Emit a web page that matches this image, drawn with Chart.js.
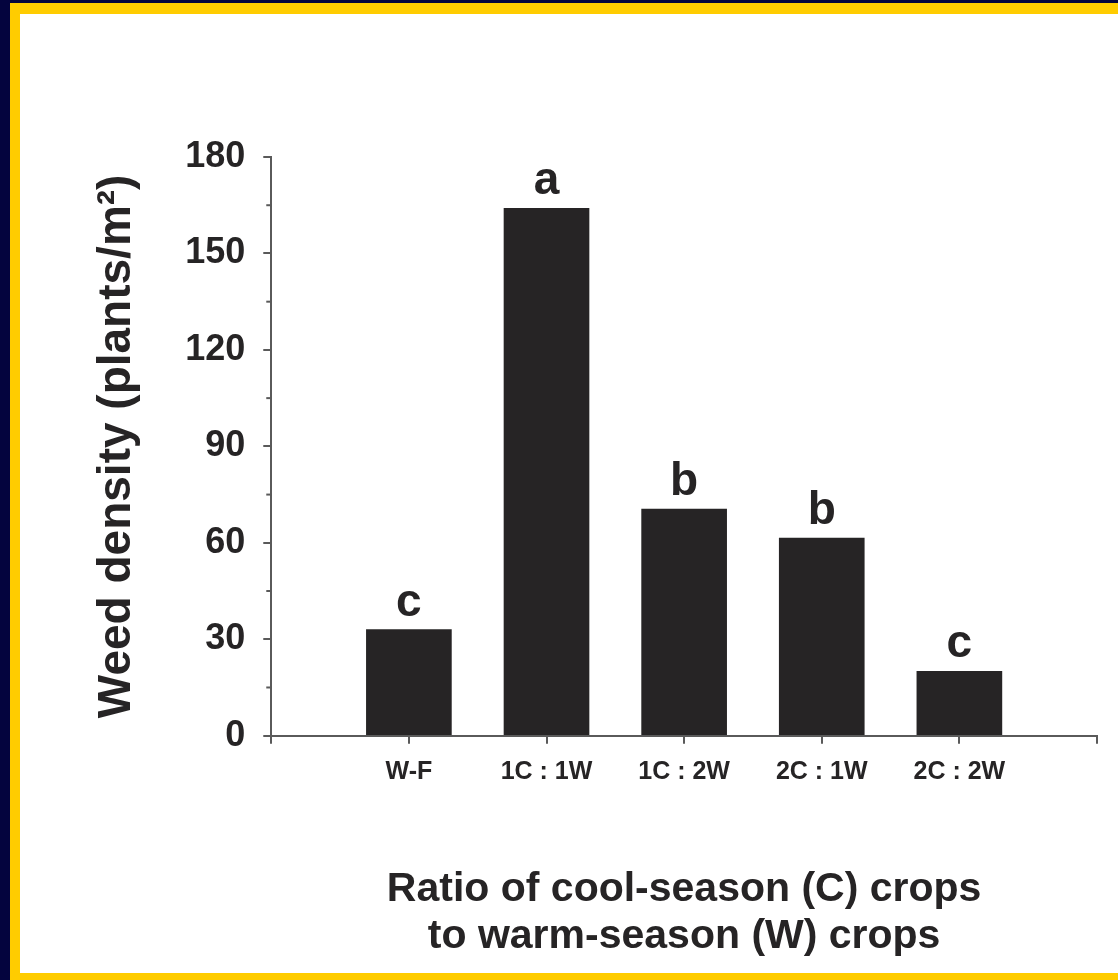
<!DOCTYPE html>
<html>
<head>
<meta charset="utf-8">
<script src="https://cdn.jsdelivr.net/npm/chart.js@4.4.0/dist/chart.umd.min.js"></script>
<style>
  html, body { margin: 0; padding: 0; background: #04043e; overflow: hidden; }
  #frame { position: absolute; left: 10px; top: 3px; width: 1120px; height: 990px; background: #ffcc00; }
  #panel { position: absolute; left: 20px; top: 14px; width: 1110px; height: 959px; background: #ffffff; }
  #chart { position: absolute; left: 0; top: 0; }
</style>
</head>
<body>
<div id="frame"></div>
<div id="panel"></div>
<canvas id="chart" width="1118" height="980"></canvas>
<script>
// rotation ratios on the x axis
const categories = ['W-F', '1C : 1W', '1C : 2W', '2C : 1W', '2C : 2W'];
// weed density, plants/m2
const density = [33, 164, 70.5, 61.5, 20];
// significance letters above bars
const sigLetters = ['c', 'a', 'b', 'b', 'c'];
// y axis
const yTicks = [0, 30, 60, 90, 120, 150, 180];
const yMinorTicks = [15, 45, 75, 105, 135, 165];

const inkColor = '#262425';
const axisColor = '#5a5a5a';
const fontFamily = '"Liberation Sans", Arial, Helvetica, sans-serif';

// empty slot at each end so the axis runs past the outer bars
const labels = [''].concat(categories, ['']);
const values = [null].concat(density, [null]);

const extras = {
    id: 'extras',
    afterDraw(chart) {
        const ctx = chart.ctx;
        const y = chart.scales.y;
        ctx.save();
        // minor ticks on the y axis
        ctx.strokeStyle = axisColor;
        ctx.lineWidth = 2;
        yMinorTicks.forEach(v => {
            const py = y.getPixelForValue(v);
            ctx.beginPath();
            ctx.moveTo(chart.chartArea.left - 5, py);
            ctx.lineTo(chart.chartArea.left, py);
            ctx.stroke();
        });
        // letters over the bars
        const meta = chart.getDatasetMeta(0);
        ctx.fillStyle = inkColor;
        ctx.font = 'bold 46px ' + fontFamily;
        ctx.textAlign = 'center';
        ctx.textBaseline = 'alphabetic';
        sigLetters.forEach((letter, i) => {
            const bar = meta.data[i + 1];
            ctx.fillText(letter, bar.x, bar.y - 14);
        });
        ctx.restore();
    }
};

new Chart(document.getElementById('chart'), {
    type: 'bar',
    data: {
        labels: labels,
        datasets: [{
            data: values,
            backgroundColor: inkColor,
            borderWidth: 0,
            barThickness: 85
        }]
    },
    options: {
        responsive: false,
        animation: false,
        layout: { padding: { left: 70, right: 21, top: 157, bottom: 20 } },
        plugins: {
            legend: { display: false },
            tooltip: { enabled: false }
        },
        scales: {
            x: {
                offset: false,
                grid: {
                    offset: false,
                    drawOnChartArea: false,
                    drawTicks: true,
                    tickLength: 8,
                    tickColor: axisColor,
                    lineWidth: 2
                },
                border: { display: true, color: axisColor, width: 2 },
                ticks: {
                    color: inkColor,
                    padding: 13,
                    maxRotation: 0,
                    autoSkip: false,
                    font: { family: fontFamily, size: 25, weight: 'bold' }
                },
                title: {
                    display: true,
                    text: ['Ratio of cool-season (C) crops', 'to warm-season (W) crops'],
                    color: inkColor,
                    font: { family: fontFamily, size: 41, weight: 'bold', lineHeight: 1.15 },
                    padding: { top: 66, bottom: 0 }
                }
            },
            y: {
                min: 0,
                max: 180,
                afterBuildTicks: scale => { scale.ticks = yTicks.map(v => ({ value: v })); },
                grid: {
                    drawOnChartArea: false,
                    drawTicks: true,
                    tickLength: 8,
                    tickColor: axisColor,
                    lineWidth: 2
                },
                border: { display: true, color: axisColor, width: 2 },
                ticks: {
                    color: inkColor,
                    padding: 18,
                    font: { family: fontFamily, size: 36, weight: 'bold' }
                },
                title: {
                    display: true,
                    text: 'Weed density (plants/m²)',
                    color: inkColor,
                    font: { family: fontFamily, size: 46, weight: 'bold', lineHeight: 1.2 },
                    padding: { top: 20, bottom: 22 }
                }
            }
        }
    },
    plugins: [extras]
});
</script>
</body>
</html>
